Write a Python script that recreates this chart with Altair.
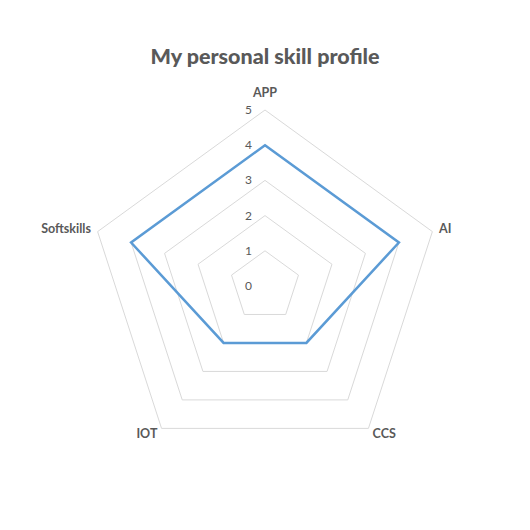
import altair as alt
import pandas as pd

categories = ["APP", "AI", "CCS", "IOT", "Softskills"]
values = [4, 4, 2, 2, 4]
ticks = [0, 1, 2, 3, 4, 5]
title_text = "My personal skill profile"

n = len(categories)
grid_rows = [{"level": lv, "i": i} for lv in ticks[1:] for i in range(n)]
grid_df = pd.DataFrame(grid_rows)
series_df = pd.DataFrame({"i": list(range(n)), "cat": categories, "value": values})
tick_df = pd.DataFrame({"tick": ticks})
label_df = pd.DataFrame({"i": list(range(n)), "cat": categories})
title_df = pd.DataFrame({"t": [title_text]})

U = 35.2
xs = alt.Scale(domain=[-265 / U, 265 / U], nice=False, zero=False)
ys = alt.Scale(domain=[-(530 - 286) / U, 286 / U], nice=False, zero=False)
X = alt.X("x:Q", scale=xs, axis=None)
Y = alt.Y("y:Q", scale=ys, axis=None)

grid = alt.Chart(grid_df).transform_calculate(
    ang=f"datum.i*2*PI/{n}"
).transform_calculate(
    x="datum.level*sin(datum.ang)", y="datum.level*cos(datum.ang)"
).mark_line(interpolate="linear-closed", color="#d9d9d9", strokeWidth=1).encode(
    x=X, y=Y, detail="level:N", order="i:Q"
)

series = alt.Chart(series_df).transform_calculate(
    ang=f"datum.i*2*PI/{n}"
).transform_calculate(
    x="datum.value*sin(datum.ang)", y="datum.value*cos(datum.ang)"
).mark_line(interpolate="linear-closed", color="#5B9BD5", strokeWidth=2.5).encode(
    x=X, y=Y, order="i:Q"
)

tick_text = alt.Chart(tick_df).transform_calculate(
    x="0", y="datum.tick"
).mark_text(align="right", baseline="middle", dx=-13, dy=0, font="Lato", fontSize=12,
            color="#595959").encode(x=X, y=Y, text="tick:Q")

base_lab = alt.Chart(label_df).transform_calculate(
    ang=f"datum.i*2*PI/{n}"
)


def lab_layer(filt, r, align):
    return base_lab.transform_filter(filt).transform_calculate(
        x=f"{r}*sin(datum.ang)", y=f"{r}*cos(datum.ang)"
    ).mark_text(align=align, baseline="middle", font="Lato", fontSize=12.5,
                fontWeight="bold", color="#595959").encode(x=X, y=Y, text="cat:N")


lab_c = lab_layer("abs(sin(datum.ang)) < 0.1", 5.48, "center")
lab_l = lab_layer("sin(datum.ang) >= 0.1", 5.2, "left")
lab_r = lab_layer("sin(datum.ang) <= -0.1", 5.2, "right")

title = alt.Chart(title_df).mark_text(
    font="Lato", fontSize=21.5, fontWeight=900, color="#595959", align="center", baseline="middle"
).encode(x=alt.value(265), y=alt.value(58), text="t:N")

chart = alt.layer(grid, series, tick_text, lab_c, lab_l, lab_r, title).properties(
    width=530, height=530, padding=0, autosize=alt.AutoSizeParams(type="none"),
    background="white"
).configure_view(strokeWidth=0)

chart.save("out.html", embed_options={"renderer": "svg", "actions": False})
